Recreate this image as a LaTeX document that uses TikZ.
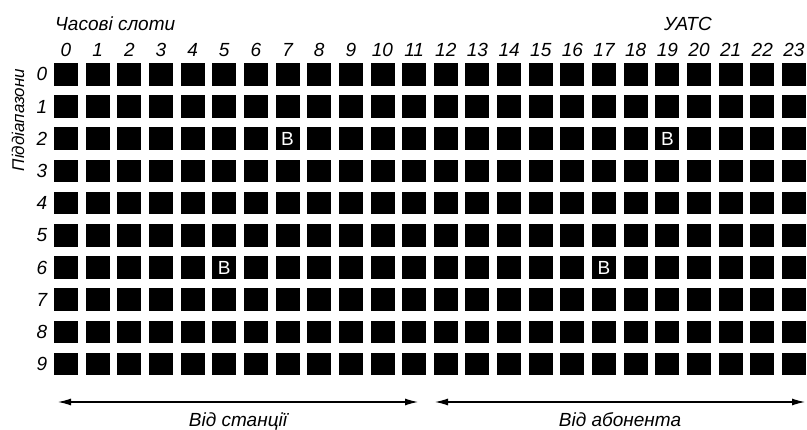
\documentclass[tikz,border=0pt]{standalone}
\usepackage{fontspec}
\setmainfont{Liberation Sans}
\usetikzlibrary{arrows.meta,positioning}

\begin{document}
\begin{tikzpicture}[x=1pt,y=-1pt,font=\fontsize{19}{21}\selectfont\itshape,
  slot/.style={fill=black,minimum width=24pt,minimum height=22.5pt,inner sep=0pt},
  busy/.style={slot,text=white,font=\fontsize{19}{21}\selectfont\upshape},
  lab/.style={inner sep=0pt}]
  \useasboundingbox (0,0) rectangle (807,430);
  \node[lab,anchor=west] (slots) at (55,24) {Часові слоти};
  \node[lab] (uats) at (688,24) {УАТС};
  \node[lab,rotate=90,font=\fontsize{17}{19}\selectfont\itshape] (bands) at (18,120) {Піддіапазони};
  \foreach \c in {0,...,23}{
    \node[lab] (col\c) at ({66+31.65*\c},50) {\c};
  }
  \foreach \r in {0,...,9}{
    \node[lab] (row\r) at (42,{74.3+32.2*\r}) {\r};
    \foreach \c in {0,...,23}
      \node[slot] (s\r-\c) at ({66+31.65*\c},{74.3+32.2*\r}) {};
  }
  % busy slots
  \foreach \r/\c in {2/7,2/19,6/5,6/17}
    \node[busy] at (s\r-\c) {B};
  \coordinate (st1) at (58,402);
  \coordinate (st2) at (418,402);
  \coordinate (ab1) at (435,402);
  \coordinate (ab2) at (805,402);
  \draw[{Latex[length=13pt,width=7pt]}-{Latex[length=13pt,width=7pt]},line width=1.1pt]
    (st1) -- node[below=7pt] {Від станції} (st2);
  \draw[{Latex[length=13pt,width=7pt]}-{Latex[length=13pt,width=7pt]},line width=1.1pt]
    (ab1) -- node[below=7pt] {Від абонента} (ab2);
\end{tikzpicture}
\end{document}
